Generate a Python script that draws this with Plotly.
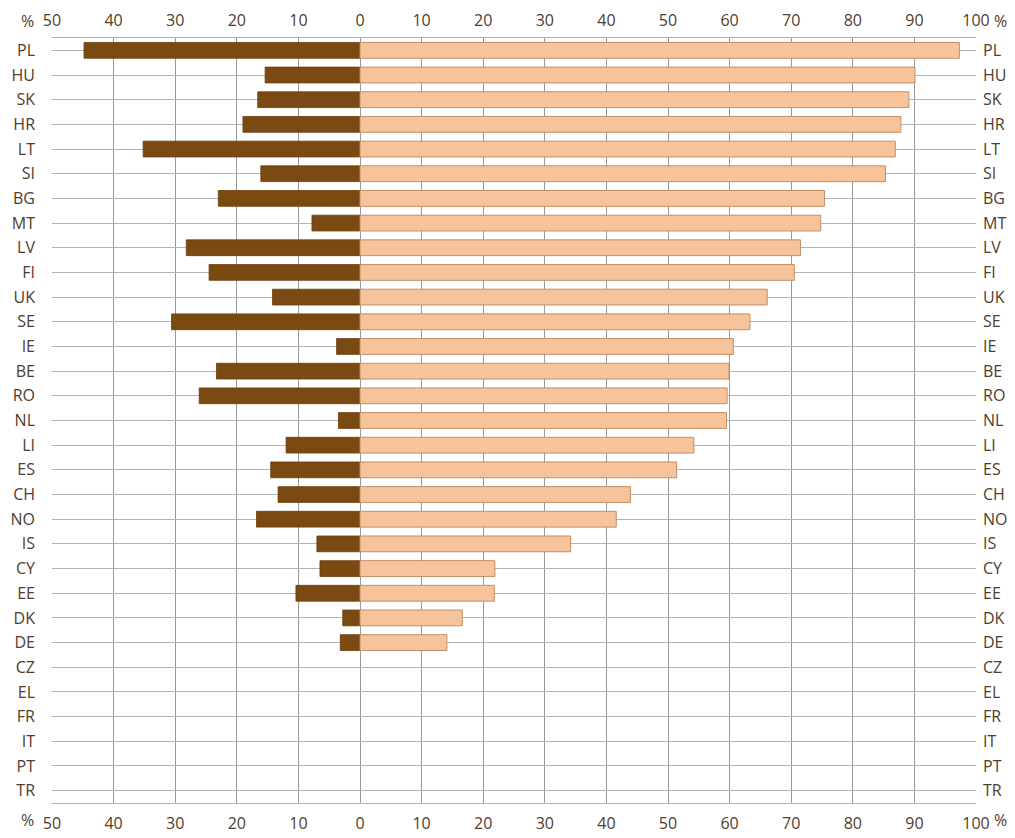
import plotly.graph_objects as go

countries = ["PL", "HU", "SK", "HR", "LT", "SI", "BG", "MT", "LV", "FI", "UK", "SE", "IE", "BE", "RO",
             "NL", "LI", "ES", "CH", "NO", "IS", "CY", "EE", "DK", "DE", "CZ", "EL", "FR", "IT", "PT", "TR"]
# None = no data for that country
left_values = [44.8, 15.4, 16.6, 19.0, 35.2, 16.1, 23.0, 7.8, 28.2, 24.5, 14.2, 30.6, 3.8, 23.3, 26.1,
               3.5, 12.0, 14.5, 13.3, 16.8, 7.0, 6.5, 10.4, 2.8, 3.2, None, None, None, None, None, None]
right_values = [97.3, 90.1, 89.1, 87.8, 86.9, 85.3, 75.4, 74.8, 71.5, 70.5, 66.1, 63.3, 60.6, 59.9, 59.6,
                59.5, 54.2, 51.4, 43.9, 41.6, 34.2, 21.9, 21.8, 16.6, 14.1, None, None, None, None, None, None]
x_ticks = [-50, -40, -30, -20, -10, 0, 10, 20, 30, 40, 50, 60, 70, 80, 90, 100]
x_tick_labels = ["50", "40", "30", "20", "10", "0", "10", "20", "30", "40", "50", "60", "70", "80", "90", "100"]

DARK = "#7a4a12"
PEACH = "#f6c39b"
TEXT = "#4f3d2d"
FONT = "Open Sans"
FS = 16

fig = go.Figure()
fig.add_trace(go.Bar(y=countries, x=[(-v if v is not None else None) for v in left_values], orientation="h",
                     marker=dict(color=DARK, line=dict(color="#6a3e0c", width=0.8)),
                     width=0.64, showlegend=False, hoverinfo="skip"))
fig.add_trace(go.Bar(y=countries, x=right_values, orientation="h",
                     marker=dict(color=PEACH, line=dict(color="#c28e68", width=1)),
                     width=0.64, showlegend=False, hoverinfo="skip"))

yr = [len(countries) - 0.5, -0.5]
xr = [-50, 100]

# page body has an 8px margin, so the figure is sized/offset to compensate
fig.update_layout(
    width=1007, height=830,
    margin=dict(l=44, r=39, t=30, b=35),
    paper_bgcolor="white", plot_bgcolor="white",
    barmode="relative", bargap=0.36,
    font=dict(family=FONT, size=FS, color=TEXT),
    xaxis=dict(range=xr, tickmode="array", tickvals=x_ticks, ticktext=x_tick_labels,
               showgrid=True, gridcolor="#9a9a9a", gridwidth=1.4, zeroline=False,
               showline=True, linecolor="#b0b0b0", linewidth=1.4, mirror=True, automargin=False,
               ticks="", ticklabelstandoff=6, tickfont=dict(size=FS, color=TEXT)),
    xaxis2=dict(range=xr, tickmode="array", tickvals=x_ticks, ticktext=x_tick_labels, automargin=False,
                overlaying="x", side="top", showgrid=False, zeroline=False, ticks="",
                ticklabelstandoff=8, tickfont=dict(size=FS, color=TEXT)),
    yaxis=dict(type="category", categoryorder="array", categoryarray=countries, range=yr,
               showgrid=True, gridcolor="#b4b4b4", gridwidth=1.4, ticks="", automargin=False,
               ticklabelstandoff=16, tickfont=dict(size=FS, color=TEXT)),
    yaxis2=dict(range=yr, tickmode="array", tickvals=list(range(len(countries))), ticktext=countries,
                overlaying="y", side="right", showgrid=False, zeroline=False, ticks="", automargin=False,
                ticklabelstandoff=6, tickfont=dict(size=FS, color=TEXT)),
)
# invisible trace to activate top / right axes
fig.add_trace(go.Scatter(x=[0], y=[0], xaxis="x2", yaxis="y2", mode="markers",
                         marker=dict(opacity=0), showlegend=False, hoverinfo="skip"))

for xp, yp in [(-0.026, 1.0), (-0.026, 0.0), (1.026, 1.0), (1.026, 0.0)]:
    fig.add_annotation(x=xp, y=yp, xref="paper", yref="paper", text="%", showarrow=False,
                       xanchor="center", yanchor="bottom" if yp == 1.0 else "top",
                       yshift=5 if yp == 1.0 else -5, borderpad=0,
                       font=dict(size=FS, color=TEXT))

fig.add_shape(type="line", xref="paper", yref="paper", x0=1.04, x1=1.04, y0=0.004, y1=-0.033,
              line=dict(color="black", width=1.5))

fig.write_html("out.html")
